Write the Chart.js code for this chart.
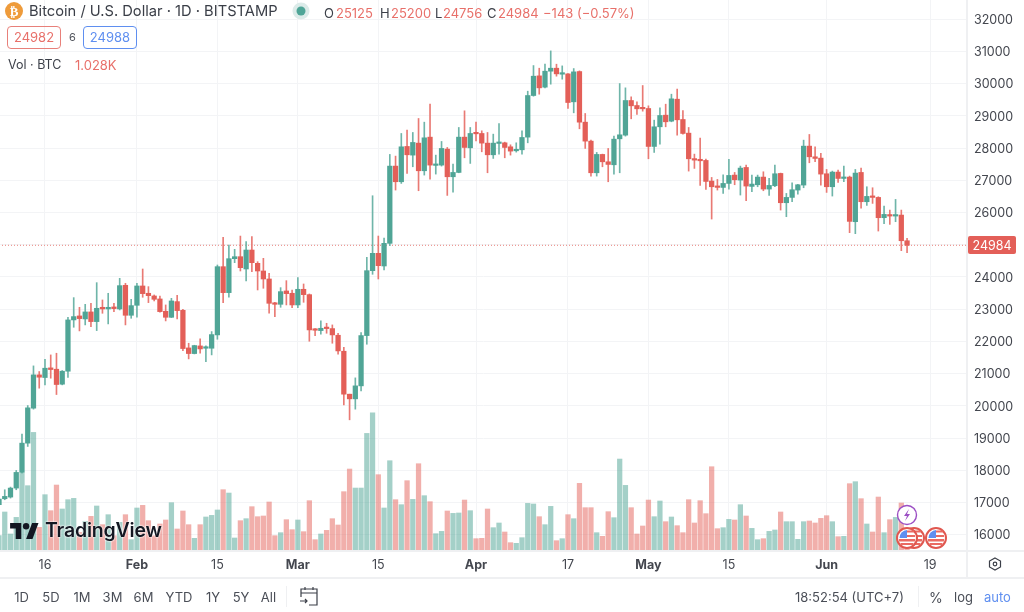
<!DOCTYPE html>
<html>
<head>
<meta charset="utf-8">
<title>BTCUSD</title>
<script src="https://cdn.jsdelivr.net/npm/chart.js@4"></script>
<style>
  html, body { margin: 0; padding: 0; background: #fff; }
  body { width: 1024px; height: 612px; position: relative; overflow: hidden; font-family: Inter, "Noto Sans", sans-serif; color: #3b3f48; }
  #wrap { position: absolute; left: 0; top: 0; width: 1024px; height: 577px; }
  .t { position: absolute; white-space: nowrap; line-height: 1; }
  .red { color: #e8706a; }
  .mid { transform: translateX(-50%); }
  .tb { font-size: 13px; top: 591px; color: #4a4e57; }
  .line { position: absolute; background: #eff0f2; }
  .box { position: absolute; box-sizing: border-box; top: 26px; height: 23px; border-radius: 4px; border: 1px solid; font-size: 13px; line-height: 21px; text-align: center; }
  svg { position: absolute; overflow: visible; }
</style>
</head>
<body>
<div id="wrap"><canvas id="btcChart"></canvas></div>

<!-- panel borders -->
<div class="line" style="left:0;top:550px;width:1024px;height:2px"></div>
<div class="line" style="left:966px;top:0;width:2px;height:577px"></div>
<div class="line" style="left:0;top:577px;width:1024px;height:2px"></div>
<div class="line" style="left:286px;top:586px;width:1px;height:21px"></div>
<div class="line" style="left:918px;top:586px;width:1px;height:21px"></div>

<!-- symbol header -->
<svg style="left:5px;top:2px" width="18" height="18" viewBox="0 0 18 18">
  <circle cx="9" cy="9" r="9" fill="#ee9b3b"/>
  <text x="9" y="13.5" text-anchor="middle" font-size="13" font-weight="700" fill="#fff" font-family="DejaVu Sans">₿</text>
</svg>
<div class="t" style="left:29px;top:4px;font-size:14.7px;color:#3a3e47">Bitcoin / U.S. Dollar · 1D · BITSTAMP</div>
<svg style="left:292px;top:2px" width="18" height="18" viewBox="0 0 18 18">
  <circle cx="9" cy="9" r="8.5" fill="#dcebe9"/><circle cx="9" cy="9" r="4.5" fill="#4fa597"/>
</svg>
<div class="t" style="left:324px;top:7px;font-size:13px">O</div><div class="t red" style="left:336px;top:7px;font-size:13px">25125</div>
<div class="t" style="left:380px;top:7px;font-size:13px">H</div><div class="t red" style="left:391px;top:7px;font-size:13px">25200</div>
<div class="t" style="left:435px;top:7px;font-size:13px">L</div><div class="t red" style="left:443px;top:7px;font-size:13px">24756</div>
<div class="t" style="left:487px;top:7px;font-size:13px">C</div><div class="t red" style="left:498px;top:7px;font-size:13px">24984</div>
<div class="t red" style="left:543px;top:7px;font-size:13px">−143 (−0.57%)</div>

<div class="box" style="left:7px;width:54px;border-color:#e8807a;color:#e8706a">24982</div>
<div class="t" style="left:69px;top:32px;font-size:11px;color:#50535b">6</div>
<div class="box" style="left:83px;width:54px;border-color:#5f8ff0;color:#5f8ff0">24988</div>
<div class="t" style="left:8px;top:59px;font-size:12.5px">Vol · BTC</div>
<div class="t red" style="left:75px;top:59px;font-size:13px">1.028K</div>

<!-- watermark -->
<svg style="left:10px;top:523px" width="29" height="16" viewBox="0 0 36 20">
  <path d="M14 20H7V7H0V0h14v20zM28 20h-8L27.5 0h8L28 20z" fill="#131722"/><circle cx="20" cy="4" r="4" fill="#131722"/>
</svg>
<div class="t" style="left:45px;top:521px;font-size:19.5px;font-weight:600;color:#131722;letter-spacing:-.2px;text-shadow:0 0 2px #fff,0 0 2px #fff">TradingView</div>

<!-- event markers -->
<svg style="left:0;top:0" width="1024" height="612" viewBox="0 0 1024 612">
  <g id="flags"></g>
  <circle cx="907" cy="515" r="9.5" fill="#fff" stroke="#9c4fc4" stroke-width="1.4"/>
  <path d="M909 509l-5 7h3l-2 5 5-7h-3z" fill="#9c4fc4"/>
  <path d="M995 558l5.5 3v6l-5.5 3-5.5-3v-6z" fill="none" stroke="#3b3f48" stroke-width="1.2"/>
  <circle cx="995" cy="564" r="1.8" fill="none" stroke="#3b3f48" stroke-width="1.2"/>
  <g fill="none" stroke="#3b3f48" stroke-width="1.2">
    <path d="M301 597v-8h16v16h-8M301 593h16M305 587v3M313 587v3"/>
    <path d="M300 601h7M305 599l2 2-2 2"/>
  </g>
</svg>

<!-- bottom toolbar -->
<div class="t tb mid" style="left:21.5px">1D</div>
<div class="t tb mid" style="left:51px">5D</div>
<div class="t tb mid" style="left:82px">1M</div>
<div class="t tb mid" style="left:112.5px">3M</div>
<div class="t tb mid" style="left:143.5px">6M</div>
<div class="t tb mid" style="left:179px">YTD</div>
<div class="t tb mid" style="left:213px">1Y</div>
<div class="t tb mid" style="left:241px">5Y</div>
<div class="t tb mid" style="left:268.5px">All</div>
<div class="t tb" style="left:795px">18:52:54 (UTC+7)</div>
<div class="t tb" style="left:929px;font-size:14px">%</div>
<div class="t tb" style="left:954px">log</div>
<div class="t tb" style="left:984px;color:#5f8ff0">auto</div>

<script>
// daily candles, index 0 = 8 Jan
var opens = [16930,17116,17168,17447,17933,18842,19928,20961,20879,21178,21137,20672,21075,22667,22791,22698,22915,22615,23059,23008,23070,23008,23742,22811,23121,23721,23494,23411,23318,22935,22749,23235,22966,21798,21623,21860,21788,21788,22202,24320,23514,24568,24630,24248,24837,24424,24186,23938,23183,23152,23566,23494,23132,23618,23452,22367,22336,22419,22398,22191,21695,20362,20217,20620,22181,24196,24734,24341,25044,27442,26956,28052,27783,28155,27297,28341,27463,27473,27969,27111,27245,28341,28010,28475,28455,28155,27793,28145,28165,28041,27917,27948,28341,29633,30243,29892,30388,30481,30295,30305,29437,30377,28806,28217,27235,27804,27576,27483,28289,28403,29478,29323,29240,29230,28052,28662,29023,28837,29519,28889,28465,27669,27628,27618,26977,26801,26780,26904,27163,27008,27400,26811,26863,27101,26729,26832,27214,26305,26470,26698,26853,28062,27731,27690,27204,26801,27256,27059,27101,25716,27245,26336,26501,26470,25840,25922,25891,25922,25125];
var highs = [17189,17395,17478,17995,19121,20010,21240,21065,21447,21581,21633,21095,22749,23359,23059,23152,23183,23824,23287,23494,23183,23959,23804,23307,23804,24248,23700,23442,23411,23132,23338,23432,22997,21943,21881,22078,21860,22305,24372,25231,24992,24858,25270,25096,25251,24475,24579,24114,23214,23669,23886,23597,23979,23783,23473,22398,22636,22563,22512,22253,21819,20362,20868,22274,24610,26522,25271,25209,27804,27752,28455,28558,28486,28920,28806,29364,27783,28207,28021,27504,28641,29158,28641,28806,28537,28486,28434,28765,28186,28103,28165,28537,29767,30563,30481,30605,31018,30605,30553,30315,30470,30398,29075,28248,27866,27814,27990,28372,30005,29871,29592,29437,29943,29313,28868,29251,29364,29674,29830,29168,28641,27814,28310,27659,27090,27028,27173,27649,27245,27442,27473,27163,27163,27266,27059,27473,27225,26594,26925,26873,28248,28424,28041,27835,27338,27287,27318,27442,27132,27338,27380,26801,26770,26491,26202,26077,26408,26077,25200];
var lows = [16878,17085,17137,17395,17912,18739,19897,20548,20650,20858,20351,20651,20879,22439,22326,22512,22460,22336,22873,22543,22925,22977,22512,22718,22749,23370,23204,23256,22904,22636,22739,22698,21716,21457,21612,21633,21375,21581,22067,23204,23370,24444,24186,23876,24165,23597,23649,22873,22770,23059,23132,23049,23049,23214,22005,22181,22222,22253,21943,21602,20031,19566,19897,20465,21912,24083,23938,24217,24972,26698,26904,27214,27421,26677,27163,27039,27194,27442,26532,26636,27235,27700,27525,28227,27886,27235,27680,27814,27700,27783,27876,27814,28165,29612,29674,29871,29985,30233,30140,29230,29096,28600,27990,27132,27132,27421,26956,27194,27235,28372,28910,29044,29147,27669,27866,28124,28662,28817,28403,28434,27287,27370,26842,26718,25798,26698,26594,26729,26863,26543,26367,26646,26801,26677,26532,26801,26077,25871,26336,26574,26770,27545,27576,26853,26625,26512,26935,26956,25375,25344,26139,26222,26284,25426,25654,25633,25716,24816,24756];
var closes = [17106,17189,17447,17933,18842,19938,20961,20889,21168,21127,20662,21075,22667,22770,22708,22915,22615,23028,23008,23059,23018,23731,22811,23111,23721,23483,23421,23307,22925,22749,23256,22956,21778,21623,21871,21767,21809,22212,24320,23514,24568,24630,24289,24837,24444,24186,23938,23183,23152,23545,23483,23132,23618,23452,22357,22346,22408,22398,22202,21705,20362,20217,20620,22181,24196,24734,24351,25044,27442,26956,28041,27793,28176,27297,28320,27473,27504,27990,27111,27245,28341,28021,28455,28444,28155,27793,28155,28176,28021,27907,27948,28331,29633,30233,29871,30388,30481,30305,30315,29416,30367,28806,28217,27235,27804,27576,27494,28279,28413,29478,29313,29220,29220,28052,28662,29013,28817,29530,28879,28455,27669,27628,27607,26966,26801,26780,26904,27152,27018,27380,26822,26884,27101,26729,26842,27204,26305,26470,26708,26863,28062,27731,27680,27194,26801,27256,27059,27101,25726,27225,26336,26501,26470,25840,25943,25891,25922,25125,24984];
var volumes = [3830,9750,4250,8410,19410,16330,29650,5910,14080,10080,16490,10500,12830,13160,4660,7410,8660,11250,6580,9080,3830,7160,9080,2830,10750,11410,7580,3830,6750,7750,12080,5500,10000,6580,3170,6580,8500,8910,10250,15330,14490,3250,7580,8080,11080,8580,8750,12250,3830,4580,7830,5330,7750,4830,12580,2830,4250,5160,8080,6500,14830,20490,15740,15740,29400,34570,19080,10750,22570,12830,11580,17580,12910,21820,13830,12330,4330,4910,10000,9410,9500,12740,10080,3080,3170,10500,5830,7000,4750,2080,1920,3330,11910,11750,8580,6580,11160,2580,3080,9080,8080,16910,10830,10830,4580,3670,9830,8330,22990,16410,10830,4250,6250,12740,8580,12500,7330,8500,6330,4580,12830,7000,12580,9330,21070,5580,5830,7910,7750,11580,8750,5660,2830,3080,4910,5250,9750,7330,7330,2920,7330,7500,7000,8160,8830,7330,3580,3670,16830,17330,13080,6750,4750,13490,4580,7830,8410,12000,1028];

var tickDays = [8,24,38,52,66,83,99,113,127,144,162];
var tickLabels = ["16","Feb","15","Mar","15","Apr","17","May","15","Jun","19"];
var monthLabels = ["Feb","Mar","Apr","May","Jun"];
var priceTicks = [16000,17000,18000,19000,20000,21000,22000,23000,24000,25000,26000,27000,28000,29000,30000,31000,32000];

var GREEN = "#50a596";
var RED = "#e35f58";
var lastClose = closes[closes.length - 1];
var isUp = closes.map(function (c, i) { return c >= opens[i]; });

var bodies = closes.map(function (c, i) { return { x: i, y: [opens[i], c] }; });
var wicks = highs.map(function (h, i) { return { x: i, y: [lows[i], h] }; });
var volumeBars = volumes.map(function (v, i) { return { x: i, y: v }; });

// last price tag on the right axis
var priceTag = {
  id: "priceTag",
  afterDraw: function (chart) {
    var c = chart.ctx;
    var y = Math.round(chart.scales.y.getPixelForValue(lastClose));
    c.save();
    c.fillStyle = RED;
    c.beginPath();
    c.roundRect(968, y - 9, 48, 18, 2);
    c.fill();
    c.fillStyle = "#fff";
    c.font = "12.5px Inter";
    c.textAlign = "center";
    c.textBaseline = "middle";
    c.fillText(String(lastClose), 992, y + 1);
    c.restore();
  },
};

new Chart(document.getElementById("btcChart").getContext("2d"), {
  type: "bar",
  data: {
    datasets: [
      {
        data: bodies,
        grouped: false,
        order: 1,
        yAxisID: "y",
        barThickness: 4.6,
        minBarLength: 1.5,
        backgroundColor: isUp.map(function (u) { return u ? GREEN : RED; }),
      },
      {
        data: wicks,
        grouped: false,
        order: 2,
        yAxisID: "y",
        barThickness: 1,
        backgroundColor: isUp.map(function (u) { return u ? "#6fb5a9" : "#e97a74"; }),
      },
      {
        type: "line",
        data: [{ x: 0, y: lastClose }, { x: 169, y: lastClose }],
        order: 3,
        yAxisID: "y",
        borderColor: "#e8807a",
        borderWidth: 1,
        borderDash: [1, 2],
        pointRadius: 0,
      },
      {
        data: volumeBars,
        grouped: false,
        order: 4,
        yAxisID: "yVol",
        barThickness: 4.6,
        backgroundColor: isUp.map(function (u) { return u ? "rgba(80,165,150,0.52)" : "rgba(227,95,88,0.5)"; }),
      },
    ],
  },
  options: {
    responsive: true,
    maintainAspectRatio: false,
    animation: false,
    layout: { padding: 0 },
    plugins: { legend: { display: false }, tooltip: { enabled: false } },
    scales: {
      x: {
        type: "linear",
        offset: false,
        min: 0.174,
        max: 168.43,
        afterBuildTicks: function (axis) {
          axis.ticks = tickDays.map(function (d) { return { value: d }; });
        },
        afterFit: function (axis) {
          axis.height = 26;
          axis.paddingLeft = 0;
          axis.paddingRight = 0;
        },
        grid: { offset: false, color: "#f3f4f6", drawTicks: false },
        border: { display: false },
        ticks: {
          autoSkip: false,
          maxRotation: 0,
          padding: 7,
          color: "#44474f",
          font: function (ctx) {
            var bold = monthLabels.indexOf(ctx.tick && ctx.tick.label) >= 0;
            return { family: "Inter", size: 12.5, weight: bold ? "700" : "400" };
          },
          callback: function (value) { return tickLabels[tickDays.indexOf(value)]; },
        },
      },
      y: {
        position: "right",
        min: 15494,
        max: 32598,
        afterBuildTicks: function (axis) {
          axis.ticks = priceTicks.map(function (p) { return { value: p }; });
        },
        afterFit: function (axis) {
          axis.width = 57;
          axis.paddingTop = 0;
          axis.paddingBottom = 0;
        },
        grid: { color: "#f3f4f6", drawTicks: false },
        border: { display: false },
        ticks: {
          padding: 7,
          labelOffset: 1,
          color: "#44474f",
          font: { family: "Inter", size: 12.5 },
          callback: function (value) { return String(value); },
        },
      },
      yVol: { display: false, min: 0, max: 137750 },
    },
  },
  plugins: [priceTag],
});

// economic event flags under the last candles
var flagCentres = [[914, 538], [907, 538], [936, 538]];
document.getElementById("flags").innerHTML = flagCentres.map(function (p) {
  var cx = p[0], cy = p[1];
  return '<circle cx="' + cx + '" cy="' + cy + '" r="10" fill="#fff" stroke="#e0574f" stroke-width="2"/>' +
    '<path d="M' + (cx - 8) + ' ' + (cy + 1) + 'h16v2.5h-16zM' + (cx - 6.5) + ' ' + (cy + 5) + 'h13v2h-13z" fill="#ea6a62"/>' +
    '<path d="M' + cx + ' ' + (cy - 7.6) + 'h7v2h-7zM' + cx + ' ' + (cy - 3) + 'h8v2h-8z" fill="#ea6a62"/>' +
    '<path d="M' + (cx - 7.5) + ' ' + cy + 'a8 8 0 0 1 7.5 -8v8z" fill="#5f8ff0"/>';
}).join("");
</script>
</body>
</html>
